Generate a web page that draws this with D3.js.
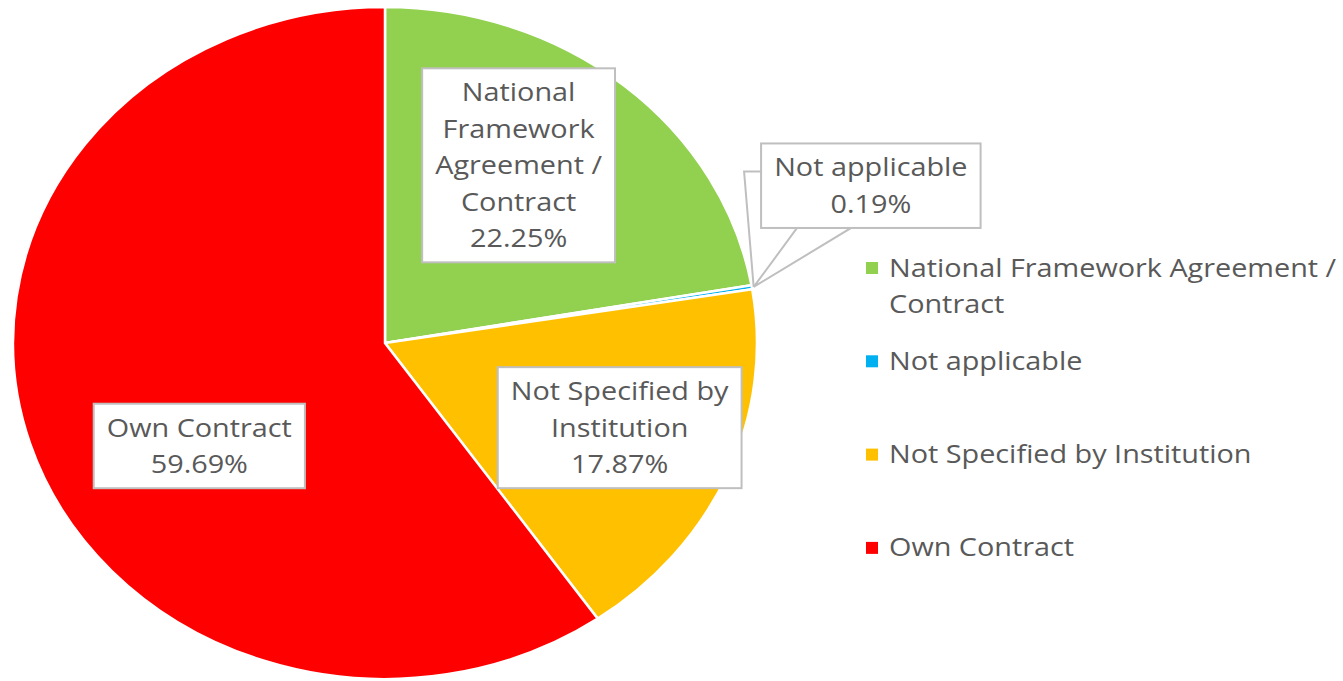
<!DOCTYPE html>
<html>
<head>
<meta charset="utf-8">
<script src="https://cdn.jsdelivr.net/npm/d3@7"></script>
<style>
  body { margin: 0; background: #fff; }
  svg { display: block; }
</style>
</head>
<body>
<svg id="chart"></svg>
<script>
// chart data
const categories = ['National Framework Agreement / Contract', 'Not applicable', 'Not Specified by Institution', 'Own Contract'];
const shares = [22.25, 0.19, 17.87, 59.69];
const colors = ['#92D050', '#00B0F0', '#FFC000', '#FF0000'];

// label placement tweaks (px, relative to the slice centroid)
const labelNudge = [[-22, -10], [119, -101], [12, 0], [45, 38]];
const labelWrap = [180, 225, 240, 240];

const width = 1343;
const height = 681;
const cx = 385;
const cy = 343;
const rx = 372;
const ry = 336;
const fontFamily = '"Open Sans", "Noto Sans", sans-serif';
const fontSize = 25.5;
const textStretch = 1.13; // the original is a little wider than tall
const lineHeight = 36.5;
const textColor = '#595959';

const svg = d3.select('#chart')
  .attr('width', width)
  .attr('height', height);

const data = categories.map((c, i) => ({name: c, value: shares[i], color: colors[i], i}));

const pie = d3.pie()
  .sort(null)
  .value(d => d.value);
const arcs = pie(data);

const arc = d3.arc()
  .innerRadius(0)
  .outerRadius(ry);

const pieG = svg.append('g')
  .attr('transform', `translate(${cx}, ${cy}) scale(${rx / ry}, 1)`);

pieG.selectAll('path')
  .data(arcs)
  .enter()
  .append('path')
  .attr('d', arc)
  .attr('fill', d => d.data.color)
  .attr('stroke', '#fff')
  .attr('stroke-width', 2.5)
  .attr('vector-effect', 'non-scaling-stroke');

// helper to measure text (screen width, stretch included)
const measure = svg.append('text')
  .style('font-family', fontFamily)
  .style('font-size', `${fontSize}px`)
  .attr('visibility', 'hidden');
const textWidth = s => {
  measure.text(s);
  return measure.node().getComputedTextLength() * textStretch;
};
const wrap = (s, max) => {
  const words = s.split(' ');
  const lines = [];
  let line = '';
  words.forEach(w => {
    const next = line ? `${line} ${w}` : w;
    if (line && textWidth(next) > max) {
      lines.push(line);
      line = w;
    } else {
      line = next;
    }
  });
  lines.push(line);
  return lines;
};

const addText = (parent, s, x, y, anchor) => parent.append('text')
  .attr('transform', `translate(${x}, ${y}) scale(${textStretch}, 1)`)
  .attr('text-anchor', anchor)
  .style('font-family', fontFamily)
  .style('font-size', `${fontSize}px`)
  .attr('fill', textColor)
  .text(s);

// screen position of a point on the (stretched) pie
const toScreen = (angle, frac) => [
  cx + frac * rx * Math.sin(angle),
  cy - frac * ry * Math.cos(angle)
];

const labels = svg.append('g');

arcs.forEach((a, i) => {
  const mid = (a.startAngle + a.endAngle) / 2;
  const pct = `${a.data.value.toFixed(2)}%`;
  const lines = wrap(a.data.name, labelWrap[i]).concat([pct]);
  const isCallout = a.data.value < 1;
  const base = isCallout ? toScreen(mid, 1) : toScreen(mid, 0.65);
  const x = base[0] + labelNudge[i][0];
  const y = base[1] + labelNudge[i][1];

  const w = d3.max(lines, textWidth) + 26;
  const firstBase = y + 8.5 - (lines.length - 1) * lineHeight / 2;
  const lastBase = firstBase + (lines.length - 1) * lineHeight;
  const top = firstBase - 33;
  const bottom = lastBase + 15;
  const left = x - w / 2;

  const g = labels.append('g');

  if (isCallout) {
    const tip = toScreen(mid, 1.005);
    g.append('path')
      .attr('d', `M${left + 36},${bottom}L${tip[0]},${tip[1]}L${left + 90},${bottom}Z`)
      .attr('fill', '#fff')
      .attr('stroke', '#bfbfbf')
      .attr('stroke-width', 2);
  }

  g.append('rect')
    .attr('x', left)
    .attr('y', top)
    .attr('width', w)
    .attr('height', bottom - top)
    .attr('fill', '#fff')
    .attr('stroke', '#bfbfbf')
    .attr('stroke-width', 2);

  if (isCallout) {
    const tip = toScreen(mid, 1.005);
    g.append('path')
      .attr('d', `M${left},${top + 28}L${left - 17},${top + 28}L${tip[0]},${tip[1]}`)
      .attr('fill', 'none')
      .attr('stroke', '#bfbfbf')
      .attr('stroke-width', 2);
  }

  lines.forEach((l, j) => addText(g, l, x, firstBase + j * lineHeight, 'middle'));
});

// legend
const legendX = 866;
const legendY = 268;
const legendStep = 93.3;

const legend = svg.append('g');
data.forEach((d, i) => {
  const y = legendY + i * legendStep;
  legend.append('rect')
    .attr('x', legendX)
    .attr('y', y - 6)
    .attr('width', 12)
    .attr('height', 12)
    .attr('fill', d.color);
  wrap(d.name, 455).forEach((l, j) => {
    addText(legend, l, legendX + 23, y + 8.5 + j * lineHeight, 'start');
  });
});

measure.remove();
</script>
</body>
</html>
